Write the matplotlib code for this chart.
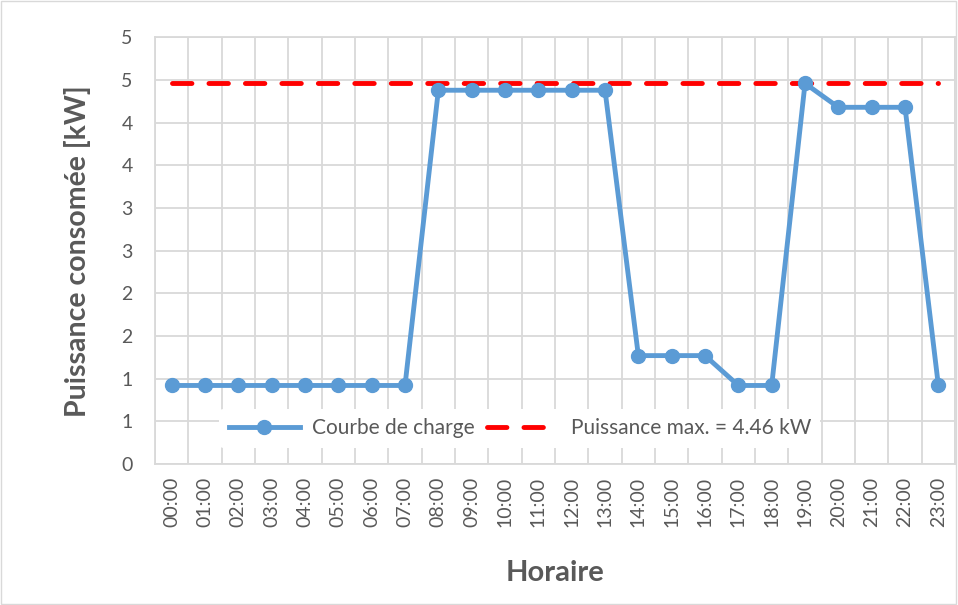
import matplotlib.pyplot as plt
from matplotlib.ticker import FuncFormatter, MultipleLocator
import numpy as np

plt.rcParams['font.family'] = ['Lato', 'DejaVu Sans']

heures = [f"{h:02d}:00" for h in range(24)]
puissance = [0.92, 0.92, 0.92, 0.92, 0.92, 0.92, 0.92, 0.92,
             4.38, 4.38, 4.38, 4.38, 4.38, 4.38,
             1.27, 1.27, 1.27, 0.92, 0.92,
             4.46, 4.18, 4.18, 4.18, 0.92]
puissance_max = 4.46

GRIS = "#595959"
BLEU = "#5B9BD5"

fig = plt.figure(figsize=(9.58, 6.05), dpi=100)
ax = fig.add_axes([0.1618, 0.2331, 0.8351, 0.7052])

x = np.arange(len(heures))
ax.plot(x, puissance, color=BLEU, lw=3.5, marker="o", ms=10,
        label="Courbe de charge", zorder=3)
ax.plot(x, [puissance_max] * len(heures), color="red", lw=3.5,
        ls=(0, (4, 3.5)), dash_capstyle="round",
        label=f"Puissance max. = {puissance_max} kW", zorder=2)

ax.set_xlim(-0.5, len(heures) - 0.5)
ax.set_ylim(0, 5)
ax.yaxis.set_major_locator(MultipleLocator(0.5))
# Excel arrondit les étiquettes à l'entier
ax.yaxis.set_major_formatter(FuncFormatter(lambda v, p: f"{int(np.floor(v + 0.5))}"))
ax.set_xticks(x)
ax.set_xticklabels(heures, rotation=90)
ax.set_xticks(np.arange(-0.5, len(heures)), minor=True)

ax.grid(False)
ax.grid(which="minor", axis="x", color="#d9d9d9", lw=1.3)
ax.grid(which="major", axis="y", color="#d9d9d9", lw=1.3)
ax.set_axisbelow(True)
ax.tick_params(which="both", length=0, colors=GRIS, labelsize=14)
ax.tick_params(axis="y", pad=16)
ax.tick_params(axis="x", pad=9)
for s in ax.spines.values():
    s.set_color("#d9d9d9")
    s.set_linewidth(1.3)

ax.set_ylabel("Puissance consomée [kW]", fontsize=20.5, fontweight="bold", color=GRIS, labelpad=22)
ax.set_xlabel("Horaire", fontsize=21, fontweight="bold", color=GRIS, labelpad=24)

leg = ax.legend(loc="center", bbox_to_anchor=(0.456, 0.084), ncol=2, frameon=True,
                fontsize=15, handlelength=3.4, columnspacing=0.6, handletextpad=0.6,
                borderpad=0.45)
leg.get_frame().set_facecolor("white")
leg.get_frame().set_edgecolor("none")
leg.get_frame().set_alpha(1)
for t in leg.get_texts():
    t.set_color(GRIS)

fig.patches.append(plt.Rectangle((0.001, 0.001), 0.997, 0.997, transform=fig.transFigure,
                                 fill=False, edgecolor="#d9d9d9", lw=1))

fig.savefig("out.png", dpi=100)
